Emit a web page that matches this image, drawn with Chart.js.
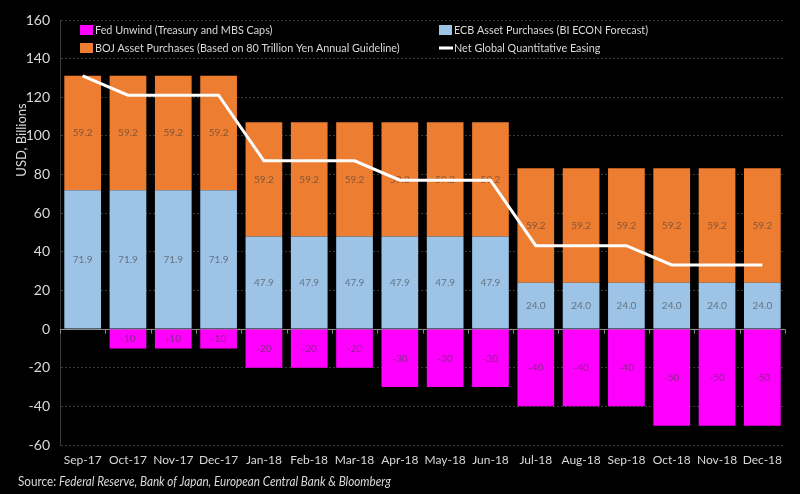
<!DOCTYPE html>
<html>
<head>
<meta charset="utf-8">
<script src="https://cdn.jsdelivr.net/npm/chart.js@4.4.1/dist/chart.umd.min.js"></script>
<style>
html,body{margin:0;padding:0;background:#000;}
#wrap{width:800px;height:494px;}
</style>
</head>
<body>
<div id="wrap"><canvas id="c" width="800" height="494"></canvas></div>
<script>
const categories = ['Sep-17','Oct-17','Nov-17','Dec-17','Jan-18','Feb-18','Mar-18','Apr-18','May-18','Jun-18','Jul-18','Aug-18','Sep-18','Oct-18','Nov-18','Dec-18'];
const fedUnwind = [0,-10,-10,-10,-20,-20,-20,-30,-30,-30,-40,-40,-40,-50,-50,-50];
const ecbPurchases = [71.9,71.9,71.9,71.9,47.9,47.9,47.9,47.9,47.9,47.9,24.0,24.0,24.0,24.0,24.0,24.0];
const bojPurchases = [59.2,59.2,59.2,59.2,59.2,59.2,59.2,59.2,59.2,59.2,59.2,59.2,59.2,59.2,59.2,59.2];
const netQE = [131.1,121.1,121.1,121.1,87.1,87.1,87.1,77.1,77.1,77.1,43.2,43.2,43.2,33.2,33.2,33.2];
const yTicks = [160,140,120,100,80,60,40,20,0,-20,-40,-60];

const FONT = 'Lato, "Open Sans", sans-serif';
const TXT = '#d9d9d9';
const SQUEEZE = 0.9;

function drawText(ctx, text, x, y) {
  ctx.save();
  ctx.translate(x, y);
  ctx.scale(SQUEEZE, 1);
  ctx.fillText(text, 0, 0);
  const w = ctx.measureText(text).width * SQUEEZE;
  ctx.restore();
  return w;
}

const extras = {
  id: 'extras',
  beforeDatasetsDraw(chart) {
    const ctx = chart.ctx, x = chart.scales.x, y = chart.scales.y;
    const y0 = Math.round(y.getPixelForValue(0)) + 0.5;
    ctx.save();
    ctx.strokeStyle = '#8c8c8c';
    ctx.lineWidth = 1;
    ctx.beginPath();
    ctx.moveTo(x.left, y0); ctx.lineTo(x.right, y0);
    const step = x.getPixelForValue(1) - x.getPixelForValue(0);
    for (let i = 0; i <= categories.length; i++) {
      const px = Math.round(x.getPixelForValue(i) - step / 2) + 0.5;
      ctx.moveTo(px, y0); ctx.lineTo(px, y0 + 4);
    }
    ctx.stroke();
    ctx.restore();
  },
  afterDatasetDraw(chart, args) {
    const meta = args.meta;
    if (meta.type !== 'bar') return;
    const ctx = chart.ctx;
    const dset = chart.data.datasets[args.index];
    ctx.save();
    ctx.font = '10px ' + FONT;
    ctx.fillStyle = 'rgba(60,60,60,0.6)';
    ctx.textAlign = 'center';
    ctx.textBaseline = 'middle';
    meta.data.forEach((el, i) => {
      const v = dset.data[i];
      if (!v) return;
      const p = el.getCenterPoint();
      ctx.fillText(v.toFixed(dset.decimals), p.x, p.y);
    });
    ctx.restore();
  },
  afterDraw(chart) {
    const ctx = chart.ctx;
    ctx.save();
    const ds = chart.data.datasets;
    const items = [
      {d: ds[0], x: 80, y: 30},
      {d: ds[1], x: 439, y: 30},
      {d: ds[2], x: 80, y: 48},
      {d: ds[3], x: 439, y: 48}
    ];
    ctx.font = '12px ' + FONT;
    ctx.textBaseline = 'middle';
    ctx.textAlign = 'left';
    items.forEach(it => {
      if (it.d.type === 'line') {
        ctx.strokeStyle = it.d.borderColor;
        ctx.lineWidth = 3;
        ctx.beginPath();
        ctx.moveTo(it.x, it.y); ctx.lineTo(it.x + 14, it.y);
        ctx.stroke();
      } else {
        ctx.fillStyle = it.d.backgroundColor;
        ctx.fillRect(it.x, it.y - 5, 13, 10);
      }
      ctx.fillStyle = TXT;
      drawText(ctx, it.d.label, it.x + 15, it.y);
    });
    // y-axis title
    ctx.save();
    ctx.translate(22, 140);
    ctx.rotate(-Math.PI / 2);
    ctx.textAlign = 'center';
    ctx.textBaseline = 'middle';
    ctx.font = '13px ' + FONT;
    ctx.fillStyle = TXT;
    ctx.fillText('USD, Billions', 0, 0);
    ctx.restore();
    // source
    ctx.font = '13px ' + FONT;
    ctx.fillStyle = TXT;
    ctx.textAlign = 'left';
    const w = drawText(ctx, 'Source: ', 18, 482);
    ctx.font = 'italic 13px ' + FONT;
    drawText(ctx, 'Federal Reserve, Bank of Japan, European Central Bank & Bloomberg', 18 + w, 482);
    ctx.restore();
  }
};

new Chart(document.getElementById('c'), {
  data: {
    labels: categories,
    datasets: [
      {type: 'bar', label: 'Fed Unwind (Treasury and MBS Caps)', data: fedUnwind, decimals: 0, backgroundColor: '#ff00ff', stack: 'qe', order: 1},
      {type: 'bar', label: 'ECB Asset Purchases (BI ECON Forecast)', data: ecbPurchases, decimals: 1, backgroundColor: '#9dc3e6', stack: 'qe', order: 1},
      {type: 'bar', label: 'BOJ Asset Purchases (Based on 80 Trillion Yen Annual Guideline)', data: bojPurchases, decimals: 1, backgroundColor: '#ed7d31', stack: 'qe', order: 1},
      {type: 'line', label: 'Net Global Quantitative Easing', data: netQE, borderColor: '#ffffff', backgroundColor: '#ffffff', borderWidth: 3, pointRadius: 0, tension: 0, stack: 'net', order: 0}
    ]
  },
  options: {
    responsive: false,
    animation: false,
    devicePixelRatio: 1,
    layout: {padding: {top: 20, right: 15, left: 0, bottom: 0}},
    datasets: {bar: {barPercentage: 0.81, categoryPercentage: 1.0}},
    plugins: {legend: {display: false}, tooltip: {enabled: false}},
    scales: {
      x: {
        stacked: true,
        grid: {display: false, drawTicks: false},
        border: {display: false},
        ticks: {color: TXT, font: {family: FONT, size: 12}, padding: 8, maxRotation: 0, autoSkip: false},
        afterFit(s) { s.height = 49; }
      },
      y: {
        stacked: true,
        min: -60, max: 160,
        afterBuildTicks(s) { s.ticks = yTicks.map(v => ({value: v})); },
        ticks: {color: TXT, font: {family: FONT, size: 14}, padding: 10},
        grid: {
          color: ctx => (ctx.tick && ctx.tick.value === 0) ? 'rgba(0,0,0,0)' : '#3a3a3a',
          drawTicks: false, lineWidth: 1
        },
        border: {display: true, color: '#3a3a3a', dash: [2, 2]},
        afterFit(s) { s.width = 60; }
      }
    }
  },
  plugins: [extras]
});
</script>
</body>
</html>
